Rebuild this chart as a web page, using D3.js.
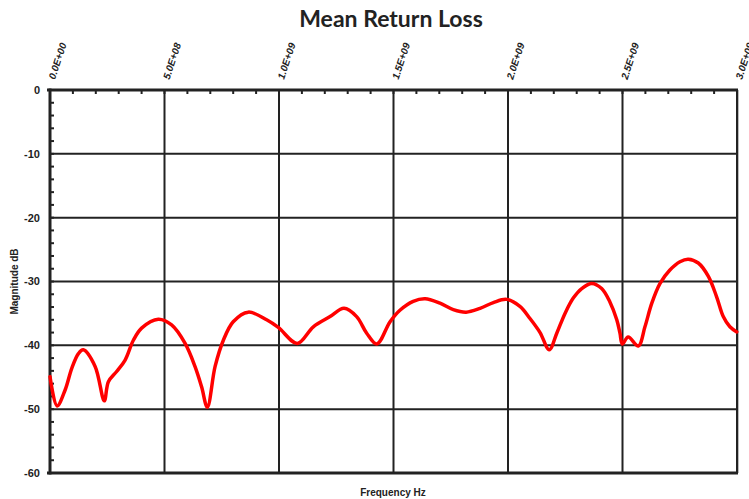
<!DOCTYPE html>
<html><head><meta charset="utf-8">
<script src="https://cdn.jsdelivr.net/npm/d3@7"></script>
<style>body{margin:0;background:#fff}svg{display:block}</style>
</head><body>
<svg id="c" width="749" height="499"></svg>
<script>
// Data (frequency in GHz, magnitude in dB)
const freqGHz = [0.000,0.031,0.066,0.095,0.124,0.145,0.197,0.237,0.255,0.291,0.328,0.364,0.400,0.473,0.531,0.590,0.633,0.662,0.687,0.721,0.757,0.800,0.866,0.946,0.997,1.080,1.150,1.223,1.284,1.339,1.383,1.427,1.485,1.528,1.586,1.638,1.703,1.761,1.817,1.878,1.936,1.994,2.052,2.096,2.140,2.180,2.213,2.249,2.285,2.322,2.366,2.409,2.445,2.475,2.489,2.499,2.525,2.569,2.598,2.628,2.664,2.707,2.751,2.787,2.831,2.875,2.911,2.940,2.969,2.999];
const magnitudeDB = [-44.9,-49.5,-47.0,-43.6,-41.3,-40.7,-43.3,-48.7,-45.7,-44.1,-42.3,-39.2,-37.3,-35.9,-36.8,-39.7,-43.3,-46.5,-49.7,-43.3,-39.2,-36.3,-34.8,-36.0,-37.2,-39.7,-37.1,-35.5,-34.2,-35.5,-38.1,-39.8,-36.3,-34.5,-33.1,-32.7,-33.4,-34.4,-34.8,-34.2,-33.3,-32.8,-33.9,-35.8,-38.0,-40.7,-38.1,-35.0,-32.6,-31.1,-30.3,-31.1,-33.2,-36.0,-38.1,-39.8,-38.7,-40.1,-37.1,-33.4,-30.3,-28.2,-26.9,-26.5,-27.1,-29.2,-32.4,-35.5,-37.1,-37.9];
const xTickValues = [0, 5e8, 1e9, 1.5e9, 2e9, 2.5e9, 3e9];
const xTickLabels = ["0.0E+00","5.0E+08","1.0E+09","1.5E+09","2.0E+09","2.5E+09","3.0E+09"];
const yTickValues = [0,-10,-20,-30,-40,-50,-60];
const titleText = "Mean Return Loss";
const xLabel = "Frequency Hz";
const yLabel = "Magnitude dB";

const svg = d3.select("#c");
const L = 50, R = 737, T = 90, B = 473;
const x = d3.scaleLinear().domain([0, 3e9]).range([L, R]);
const y = d3.scaleLinear().domain([0, -60]).range([T, B]);
const dark = "#222";

// grid lines
const g = svg.append("g");
g.selectAll(".vg").data(xTickValues.slice(1, -1)).join("line")
  .attr("x1", d => x(d)).attr("x2", d => x(d)).attr("y1", T).attr("y2", B)
  .attr("stroke", dark).attr("stroke-width", 2);
g.selectAll(".hg").data(yTickValues.slice(1, -1)).join("line")
  .attr("x1", L).attr("x2", R).attr("y1", d => y(d)).attr("y2", d => y(d))
  .attr("stroke", dark).attr("stroke-width", 2);

// minor ticks
const xMinor = d3.range(1e8, 3e9, 1e8);
g.selectAll(".xm").data(xMinor).join("line")
  .attr("x1", d => x(d)).attr("x2", d => x(d)).attr("y1", T).attr("y2", T + 4)
  .attr("stroke", dark).attr("stroke-width", 2);
const yMinor = d3.range(-2, -60, -2);
g.selectAll(".ym").data(yMinor).join("line")
  .attr("x1", L).attr("x2", L + 4).attr("y1", d => y(d)).attr("y2", d => y(d))
  .attr("stroke", dark).attr("stroke-width", 2);

// frame
svg.append("line").attr("x1", R + 1.5).attr("x2", R + 1.5).attr("y1", T).attr("y2", B).attr("stroke", "#bbb").attr("stroke-width", 1);
svg.append("line").attr("x1", R).attr("x2", R).attr("y1", T - 1).attr("y2", B + 1).attr("stroke", dark).attr("stroke-width", 2);
svg.append("line").attr("x1", L - 3).attr("x2", R + 1).attr("y1", T).attr("y2", T).attr("stroke", dark).attr("stroke-width", 3);
svg.append("line").attr("x1", L - 3).attr("x2", R + 1).attr("y1", B).attr("y2", B).attr("stroke", dark).attr("stroke-width", 3);
svg.append("line").attr("x1", L).attr("x2", L).attr("y1", T - 1.5).attr("y2", B + 1.5).attr("stroke", dark).attr("stroke-width", 3);

// y labels
svg.selectAll(".yl").data(yTickValues).join("text")
  .attr("x", 40).attr("y", d => y(d)).attr("dy", "0.35em")
  .attr("text-anchor", "end")
  .attr("font-family", "Liberation Sans, Arial, sans-serif").attr("font-weight", "bold").attr("font-size", 11)
  .attr("fill", dark).text(d => d3.format("d")(d).replace("−", "-"));

// x labels (top, rotated)
svg.selectAll(".xl").data(xTickValues).join("text")
  .attr("transform", d => `translate(${x(d) + 5},${80}) rotate(-72)`)
  .attr("text-anchor", "start")
  .attr("font-family", "Liberation Sans, Arial, sans-serif").attr("font-weight", "bold").attr("font-style", "italic").attr("font-size", 10)
  .attr("fill", dark).text((d, i) => xTickLabels[i]);

// curve
const line = d3.line().x((d, i) => x(freqGHz[i] * 1e9)).y(d => y(d)).curve(d3.curveCatmullRom.alpha(0.5));
svg.append("path").datum(magnitudeDB).attr("d", line)
  .attr("fill", "none").attr("stroke", "#ff0000").attr("stroke-width", 3.5)
  .attr("stroke-linejoin", "round").attr("stroke-linecap", "round");

// title and axis labels
svg.append("text").attr("x", 391).attr("y", 27).attr("text-anchor", "middle")
  .attr("font-family", "Lato, sans-serif").attr("font-weight", "bold").attr("font-size", 23)
  .attr("fill", dark).text(titleText);
svg.append("text").attr("x", 393).attr("y", 496).attr("text-anchor", "middle")
  .attr("font-family", "Liberation Sans, Arial, sans-serif").attr("font-weight", "bold").attr("font-size", 10)
  .attr("fill", dark).text(xLabel);
svg.append("text").attr("transform", `translate(18,${(T + B) / 2}) rotate(-90)`).attr("text-anchor", "middle")
  .attr("font-family", "Liberation Sans, Arial, sans-serif").attr("font-weight", "bold").attr("font-size", 10)
  .attr("fill", dark).text(yLabel);
</script>
</body></html>
